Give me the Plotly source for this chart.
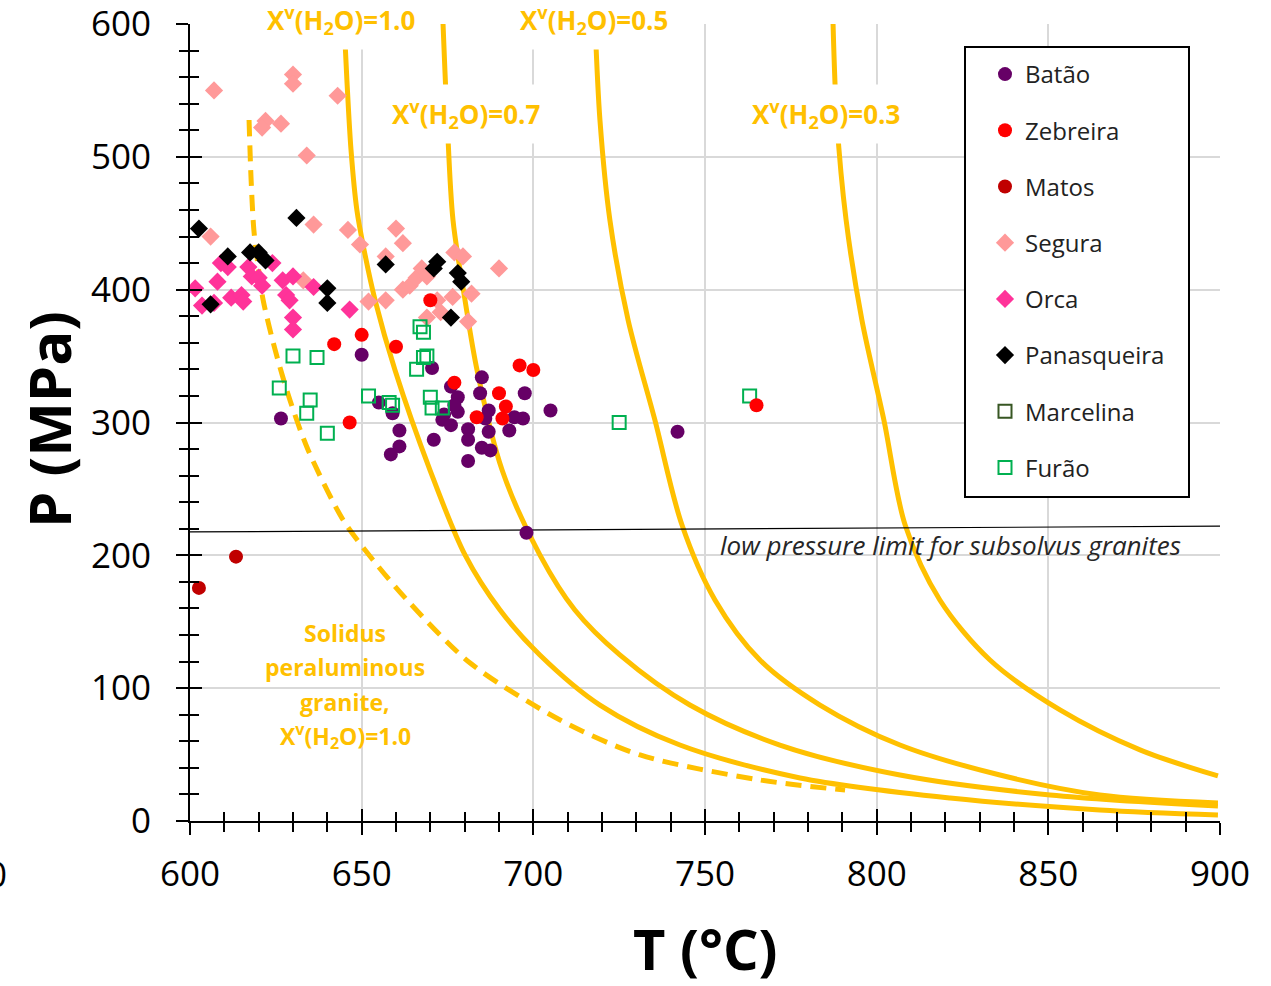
import plotly.graph_objects as go

# ---------------- data ----------------
batao_T = [626.5, 650, 655, 670.5, 676, 678, 678, 674, 673.5, 676, 681, 671, 681, 685, 684.5, 687, 686, 687, 685,
           687.5, 693, 697.5, 697, 694.5, 705, 661, 661, 658.5, 659, 742, 698, 677, 681]
batao_P = [303, 351, 315, 341, 327, 319, 308, 306, 302, 298, 295, 287, 271, 334, 322, 309, 303, 293, 281,
           279, 294, 322, 303, 304, 309, 294, 282, 276, 307, 293, 217, 313, 287]

zebreira_T = [642, 650, 660, 646.5, 670, 677, 696, 700, 690, 692, 691, 683.5, 765]
zebreira_P = [359, 366, 357, 300, 392, 330, 343, 339.5, 322, 312, 303, 304, 313]

matos_T = [602.6, 613.4]
matos_P = [175.5, 199]

segura_T = [607, 630, 630, 643, 622, 621, 626.5, 634, 636, 646, 606, 649.5, 633, 652, 660, 662, 657, 657, 662, 664,
            666, 667.5, 669, 672, 669, 673, 676.5, 677, 679.5, 682, 681, 690]
segura_P = [550, 562, 555, 546, 527, 522, 525, 501, 449, 445, 440, 434, 407, 391, 446, 435, 425, 392, 400, 403,
            409, 416, 410, 392, 379, 383, 394.5, 428, 425, 397, 376, 416]

orca_T = [601.5, 603.5, 608, 609, 611, 607, 612, 615, 615.5, 617, 618, 620, 621, 624, 627, 630, 628, 629, 630, 630,
          636, 646.5]
orca_P = [401, 388, 406, 420, 417, 390, 394, 396, 391, 417, 410, 409, 403, 420, 407, 410, 396, 392, 379, 370,
          402, 385]

panas_T = [602.6, 631, 611, 606, 617.5, 620, 622, 640, 640, 657, 671, 672, 678, 679, 676]
panas_P = [446, 454, 425, 389, 428, 428, 422, 401, 390, 419, 416, 421, 412.5, 406, 379]

marcelina_T = [None]
marcelina_P = [None]

furao_T = [630, 637, 626, 635, 634, 640, 652, 667, 668, 668, 669, 666, 670, 670.5, 673.5, 658, 659, 725, 763]
furao_P = [350, 349, 326, 317, 307, 292, 320, 372, 368, 349, 350, 340, 319, 311, 311, 315, 313, 300, 320]

# solidus (dashed) and X(H2O) isopleths
solidus_T = [617.2, 617.8, 618.6, 619.8, 621.3, 624.8, 629.1, 634.4, 644.6, 653.3, 663.2, 681.6, 707.8, 731.1, 766, 790.8]
solidus_P = [527.7, 482.6, 444.9, 418.6, 392.2, 354.6, 316.9, 279.3, 226.6, 196.5, 166.4, 118.9, 76, 49.7, 30.9, 23.3]

x10_T = [644.9, 645.7, 646.9, 648.6, 650.7, 653.9, 659.7, 669.9, 680.1, 690.3, 701.9, 719.4, 742.7, 777.7, 821.4, 865, 899.4]
x10_P = [600, 557.8, 505.1, 460, 429.9, 392.2, 339.5, 264.2, 200.3, 158.8, 125, 87.3, 57.2, 32.4, 17.3, 8.3, 4.5]

x07_T = [673.7, 674.9, 676.6, 680.1, 683.6, 690.9, 701.9, 712.1, 725.2, 745.6, 771.8, 806.8, 850.5, 899.4]
x07_P = [600, 527.7, 452.4, 392.2, 339.5, 264.2, 200.3, 158.8, 125, 87.3, 57.2, 34.6, 19.6, 11.3]

x05_T = [718, 719.4, 722.3, 727.6, 735.4, 743.3, 752.9, 766, 783.5, 806.8, 835.9, 865, 899.4]
x05_P = [600, 527.7, 452.4, 377.2, 301.9, 222.8, 166.4, 121.2, 87.3, 57.2, 34.6, 19.6, 13.6]

x03_T = [787.3, 788.4, 791.1, 795.7, 802.1, 808.3, 818.4, 833, 853.4, 876.7, 899.4]
x03_P = [600, 527.7, 452.4, 377.2, 301.9, 222.8, 166.4, 121.2, 83.6, 53.5, 33.9]

lowp_T = [600, 900]
lowp_P = [217.6, 222]

x_ticks = [600, 650, 700, 750, 800, 850, 900]
y_ticks = [0, 100, 200, 300, 400, 500, 600]

# ---------------- figure ----------------
FONT = "Open Sans"
ORANGE = "#FFC000"
W, H = 1271, 986
ML, MR, MT, MB = 190, 51, 24, 165
PW, PH = W - ML - MR, H - MT - MB


def px2paper(px, py):
    return (px - ML) / PW, (H - MB - py) / PH


fig = go.Figure()

fig.add_trace(go.Scatter(x=solidus_T, y=solidus_P, mode="lines", showlegend=False, hoverinfo="skip",
                         line=dict(color=ORANGE, width=5, dash="16px,9px", shape="spline", smoothing=0.8)))
for tx, py in [(x10_T, x10_P), (x07_T, x07_P), (x05_T, x05_P), (x03_T, x03_P)]:
    fig.add_trace(go.Scatter(x=tx, y=py, mode="lines", showlegend=False, hoverinfo="skip",
                             line=dict(color=ORANGE, width=5, shape="spline", smoothing=0.9)))
fig.add_trace(go.Scatter(x=lowp_T, y=lowp_P, mode="lines", showlegend=False, hoverinfo="skip",
                         line=dict(color="black", width=1.2)))

series = [
    ("Batão", batao_T, batao_P, dict(symbol="circle", color="#660066", size=14)),
    ("Zebreira", zebreira_T, zebreira_P, dict(symbol="circle", color="#FF0000", size=14)),
    ("Matos", matos_T, matos_P, dict(symbol="circle", color="#C00000", size=14)),
    ("Segura", segura_T, segura_P, dict(symbol="diamond", color="#FF9999", size=14)),
    ("Orca", orca_T, orca_P, dict(symbol="diamond", color="#FF3399", size=14)),
    ("Panasqueira", panas_T, panas_P, dict(symbol="diamond", color="black", size=14)),
    ("Marcelina", marcelina_T, marcelina_P, dict(symbol="square-open", color="#375623", size=13,
                                                 line=dict(width=2, color="#375623"))),
    ("Furão", furao_T, furao_P, dict(symbol="square-open", color="#00B050", size=13,
                                     line=dict(width=2, color="#00B050"))),
]
draw_order = ["Segura", "Orca", "Panasqueira", "Batão", "Furão", "Marcelina", "Zebreira", "Matos"]
legend_rank = {s[0]: i for i, s in enumerate(series)}
sd = {s[0]: s for s in series}
for name in draw_order:
    _, tx, py, mk = sd[name]
    fig.add_trace(go.Scatter(x=tx, y=py, mode="markers", name=name, marker=mk,
                             legendgroup=name, legendrank=legend_rank[name] + 1))

# dummy trace for overlay axes (cross ticks)
fig.add_trace(go.Scatter(x=[None], y=[None], xaxis="x2", yaxis="y2", showlegend=False, hoverinfo="skip"))

tickfont = dict(family=FONT, size=35, color="black")
lx, ly = px2paper(985, 52)
fig.update_layout(
    width=W, height=H,
    margin=dict(l=ML, r=MR, t=MT, b=MB, autoexpand=False),
    plot_bgcolor="white", paper_bgcolor="white",
    xaxis=dict(range=[600, 900], tickvals=x_ticks, ticks="outside", ticklen=12, tickwidth=2, tickcolor="black",
               showline=True, linecolor="black", linewidth=2, showgrid=True, gridcolor="#d9d9d9", gridwidth=2,
               zeroline=False, tickfont=tickfont, ticklabelstandoff=9, automargin=False,
               ticklabeloverflow="allow",
               minor=dict(ticks="outside", ticklen=9, tickwidth=2, tickcolor="black", dtick=10, showgrid=False)),
    yaxis=dict(range=[0, 600], tickvals=y_ticks, ticks="outside", ticklen=12, tickwidth=2, tickcolor="black",
               showline=True, linecolor="black", linewidth=2, showgrid=True, gridcolor="#d9d9d9", gridwidth=2,
               zeroline=False, tickfont=tickfont, ticklabelstandoff=18, automargin=False,
               ticklabeloverflow="allow",
               minor=dict(ticks="outside", ticklen=9, tickwidth=2, tickcolor="black", dtick=20, showgrid=False)),
    xaxis2=dict(range=[600, 900], overlaying="x", anchor="y2", side="bottom", tickvals=x_ticks, ticks="inside",
                ticklen=12, tickwidth=2, tickcolor="black", showticklabels=False, showgrid=False, zeroline=False,
                showline=False, automargin=False,
                minor=dict(ticks="inside", ticklen=9, tickwidth=2, tickcolor="black", dtick=10, showgrid=False)),
    yaxis2=dict(range=[0, 600], overlaying="y", anchor="x2", side="left", tickvals=y_ticks, ticks="inside",
                ticklen=12, tickwidth=2, tickcolor="black", showticklabels=False, showgrid=False, zeroline=False,
                showline=False, automargin=False,
                minor=dict(ticks="inside", ticklen=9, tickwidth=2, tickcolor="black", dtick=20, showgrid=False)),
    legend=dict(x=lx, y=ly, xanchor="left", yanchor="top", bgcolor="rgba(0,0,0,0)", borderwidth=0,
                font=dict(family=FONT, size=24, color="#222222"), tracegroupgap=22, itemwidth=30),
    showlegend=True,
)

# legend frame
bx0, by0 = px2paper(965, 47)
bx1, by1 = px2paper(1189, 497)
fig.add_shape(type="rect", xref="paper", yref="paper", x0=bx0, x1=bx1, y0=by1, y1=by0,
              fillcolor="white", line=dict(color="black", width=2), layer="above")

lab_font = dict(family=FONT, size=26, color=ORANGE)


def iso_label(text, px, py):
    x, y = px2paper(px, py)
    fig.add_annotation(x=x, y=y, xref="paper", yref="paper", text=text, showarrow=False, xanchor="center",
                       yanchor="middle", font=lab_font, bgcolor="white", borderpad=9)


iso_label("<b>X<sup>v</sup>(H<sub>2</sub>O)=1.0</b>", 341, 20)
iso_label("<b>X<sup>v</sup>(H<sub>2</sub>O)=0.5</b>", 594, 20)
iso_label("<b>X<sup>v</sup>(H<sub>2</sub>O)=0.7</b>", 466, 114)
iso_label("<b>X<sup>v</sup>(H<sub>2</sub>O)=0.3</b>", 826, 114)

sol_font = dict(family=FONT, size=23, color=ORANGE)
for txt, pyy in [("<b>Solidus</b>", 633), ("<b>peraluminous</b>", 667), ("<b>granite,</b>", 702),
                 ("<b>X<sup>v</sup>(H<sub>2</sub>O)=1.0</b>", 736)]:
    x, y = px2paper(345, pyy)
    fig.add_annotation(x=x, y=y, xref="paper", yref="paper", text=txt, showarrow=False,
                       xanchor="center", yanchor="middle", font=sol_font)

x, y = px2paper(950, 545)
fig.add_annotation(x=x, y=y, xref="paper", yref="paper", text="<i>low pressure limit for subsolvus granites</i>",
                   showarrow=False, xanchor="center", yanchor="middle",
                   font=dict(family=FONT, size=26, color="#262626"))

x, y = px2paper(48, 420)
fig.add_annotation(x=x, y=y, xref="paper", yref="paper", text="<b>P (MPa)</b>", textangle=-90,
                   xanchor="center", yanchor="middle",
                   showarrow=False, font=dict(family=FONT, size=58, color="black"))
x, y = px2paper(705, 948)
fig.add_annotation(x=x, y=y, xref="paper", yref="paper", text="<b>T (°C)</b>",
                   xanchor="center", yanchor="middle",
                   showarrow=False, font=dict(family=FONT, size=56, color="black"))

# clipped tick label remnant at the left edge of the reference image
x, y = px2paper(9, 873)
fig.add_annotation(x=x, y=y, xref="paper", yref="paper", text="0", xanchor="right", yanchor="middle",
                   showarrow=False, font=tickfont)

fig.write_html("out.html")
